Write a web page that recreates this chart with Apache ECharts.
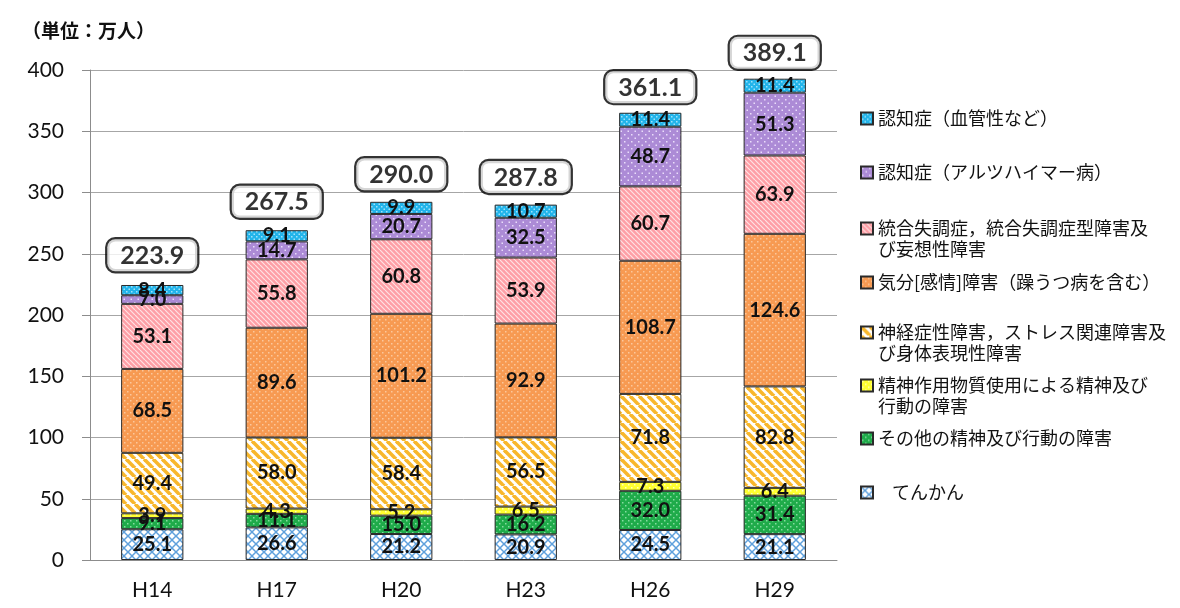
<!DOCTYPE html>
<html><head><meta charset="utf-8">
<script src="https://cdn.jsdelivr.net/npm/echarts@6/dist/echarts.min.js"></script>
<style>html,body{margin:0;padding:0;background:#fff}#c{width:1180px;height:608px}</style>
</head><body><div id="c"></div>
<script>
// ---- data ----
const categories = ['H14', 'H17', 'H20', 'H23', 'H26', 'H29'];
const epilepsy    = [25.1, 26.6, 21.2, 20.9, 24.5, 21.1];   // てんかん
const otherDis    = [9.1, 11.1, 15.0, 16.2, 32.0, 31.4];    // その他の精神及び行動の障害
const substance   = [3.9, 4.3, 5.2, 6.5, 7.3, 6.4];         // 精神作用物質使用による…
const neurotic    = [49.4, 58.0, 58.4, 56.5, 71.8, 82.8];   // 神経症性障害…
const mood        = [68.5, 89.6, 101.2, 92.9, 108.7, 124.6];// 気分[感情]障害
const schizo      = [53.1, 55.8, 60.8, 53.9, 60.7, 63.9];   // 統合失調症…
const alzheimer   = [7.0, 14.7, 20.7, 32.5, 48.7, 51.3];    // 認知症（アルツハイマー病）
const vascular    = [8.4, 9.1, 9.9, 10.7, 11.4, 11.4];      // 認知症（血管性など）
const totals      = [223.9, 267.5, 290.0, 287.8, 361.1, 389.1];
const yTicks      = [0, 50, 100, 150, 200, 250, 300, 350, 400];

const names = {
  epilepsy: 'てんかん',
  otherDis: 'その他の精神及び行動の障害',
  substance: '精神作用物質使用による精神及び行動の障害',
  neurotic: '神経症性障害，ストレス関連障害及び身体表現性障害',
  mood: '気分[感情]障害（躁うつ病を含む）',
  schizo: '統合失調症，統合失調症型障害及び妄想性障害',
  alzheimer: '認知症（アルツハイマー病）',
  vascular: '認知症（血管性など）'
};
const legendText = {
  epilepsy: 'てんかん',
  otherDis: 'その他の精神及び行動の障害',
  substance: ' \n精神作用物質使用による精神及び\n行動の障害',
  neurotic: ' \n神経症性障害，ストレス関連障害及\nび身体表現性障害',
  mood: '気分[感情]障害（躁うつ病を含む）',
  schizo: ' \n統合失調症，統合失調症型障害及\nび妄想性障害',
  alzheimer: '認知症（アルツハイマー病）',
  vascular: '認知症（血管性など）'
};

// ---- patterns ----
function mk(n){const c=document.createElement('canvas');c.width=n;c.height=n;return c;}
function dots(bg, fg, n){
  const c=mk(n), g=c.getContext('2d');
  g.fillStyle=bg; g.fillRect(0,0,n,n);
  g.fillStyle=fg; g.fillRect(1,1,1.5,1.5); g.fillRect(1+n/2,1+n/2,1.5,1.5);
  return {image:c, repeat:'repeat'};
}
function stripes(bg, fg, n, w){
  const c=mk(n), g=c.getContext('2d');
  g.fillStyle=bg; g.fillRect(0,0,n,n);
  g.strokeStyle=fg; g.lineWidth=w;
  for(let k=-1;k<=1;k++){g.beginPath();g.moveTo(k*n,0);g.lineTo(k*n+n,n);g.stroke();}
  return {image:c, repeat:'repeat'};
}
function cross(bg, fg, n, w){
  const c=mk(n), g=c.getContext('2d');
  g.fillStyle=bg; g.fillRect(0,0,n,n);
  g.strokeStyle=fg; g.lineWidth=w;
  for(let k=-1;k<=1;k++){
    g.beginPath();g.moveTo(k*n,0);g.lineTo(k*n+n,n);g.stroke();
    g.beginPath();g.moveTo(k*n+n,0);g.lineTo(k*n,n);g.stroke();
  }
  return {image:c, repeat:'repeat'};
}
const fills = {
  epilepsy: cross('#ffffff', '#5fa0dc', 8, 1.5),
  otherDis: dots('#1fab4a', '#86dca0', 6),
  substance: dots('#ffff30', '#ffffc0', 6),
  neurotic: stripes('#ffffff', '#f8b72c', 9, 3.6),
  mood: dots('#f79a52', '#fbc79c', 6),
  schizo: stripes('#fe9fa6', '#ffe2e4', 5, 1.2),
  alzheimer: dots('#ac8bd6', '#e9defa', 7),
  vascular: dots('#22b4ea', '#9fe2fb', 5)
};

const order = ['epilepsy','otherDis','substance','neurotic','mood','schizo','alzheimer','vascular'];
const dataMap = {epilepsy, otherDis, substance, neurotic, mood, schizo, alzheimer, vascular};

const labelFont = {fontFamily:'Lato, "Liberation Sans", sans-serif', fontWeight:'bold', fontSize:20, color:'#111'};

const series = order.map(k => ({
  name: names[k],
  type: 'bar',
  stack: 'total',
  barWidth: '50%',
  data: dataMap[k],
  itemStyle: {color: fills[k], borderColor: '#2a2a2a', borderWidth: 1},
  label: Object.assign({show:true, position:'inside', formatter: p => p.value.toFixed(1)}, labelFont),
  emphasis: {disabled: true}
}));
series.push({
  name: 'total', type: 'scatter', data: totals, symbolSize: 1, z: 10,
  itemStyle: {color: 'rgba(0,0,0,0)'},
  label: {show:true, position:'top', distance:14, formatter: p => p.value.toFixed(1),
    fontFamily:'Lato, "Liberation Sans", sans-serif', fontWeight:'bold', fontSize:25, color:'#000',
    backgroundColor:'#fff', borderColor:'#000', borderWidth:2.2, borderRadius:8, padding:[4,13,3,13]}
});

// legend items (top -> bottom), icon centre y
const legendPos = [['vascular',118],['alzheimer',172],['schizo',228],['mood',282],['neurotic',332],['substance',385],['otherDis',438],['epilepsy',492]];
const legends = legendPos.map(([k,cy]) => {
  const multi = legendText[k].indexOf('\n') >= 0;
  return {
    data: [names[k]], left: 860, top: multi ? cy-31 : cy-10, padding: 0,
    orient: 'vertical', icon: 'rect', itemWidth: 12, itemHeight: 12, itemGap: 5,
    selectedMode: false,
    formatter: () => legendText[k],
    textStyle: {fontFamily:'"Noto Sans CJK JP", sans-serif', fontSize:18, lineHeight:21, color:'#111',
      padding: k==='epilepsy' ? [0,0,0,14] : 0}
  };
});

const chart = echarts.init(document.getElementById('c'), null, {renderer:'canvas'});
chart.setOption({
  animation: false,
  backgroundColor: '#fff',
  title: {text:'（単位：万人）', left: 22, top: 21, padding: 0,
    textStyle:{fontFamily:'"Noto Sans CJK JP", sans-serif', fontSize:19, fontWeight:'bold', color:'#111'}},
  grid: {left: 90, right: 343, top: 70, bottom: 48},
  legend: legends,
  xAxis: {type:'category', data: categories,
    axisLine:{show:true, lineStyle:{color:'#8c8c8c', width:1}},
    axisTick:{show:false},
    axisLabel:{fontFamily:'Lato, "Liberation Sans", sans-serif', fontSize:21, color:'#111', margin:20}},
  yAxis: {type:'value', min: yTicks[0], max: yTicks[yTicks.length-1], interval: 50,
    axisLine:{show:true, lineStyle:{color:'#8c8c8c', width:1}},
    axisTick:{show:true, length:8, lineStyle:{color:'#8c8c8c'}},
    splitLine:{show:true, lineStyle:{color:'#a6a6a6', width:1}},
    axisLabel:{fontFamily:'Lato, "Liberation Sans", sans-serif', fontSize:21, color:'#111', margin:26}},
  series
});
</script></body></html>
